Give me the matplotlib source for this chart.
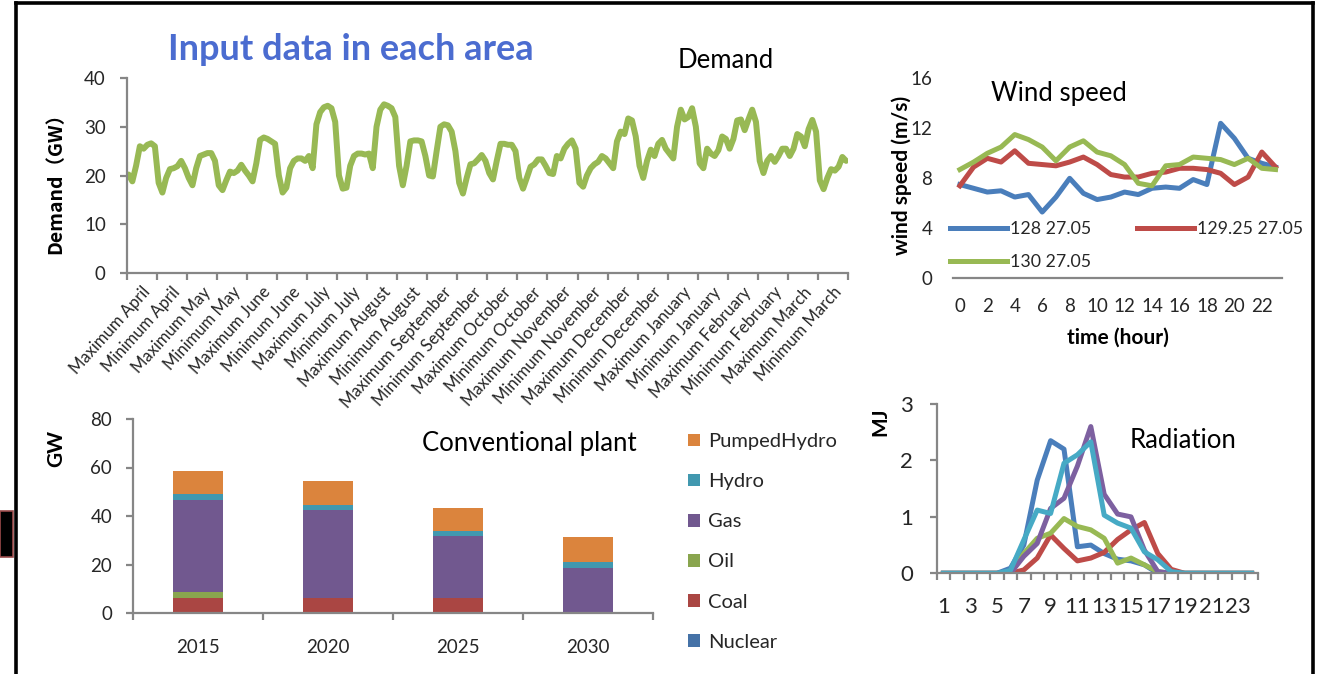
import matplotlib
matplotlib.use('Agg')
import matplotlib.pyplot as plt
import numpy as np
from matplotlib.lines import Line2D
from matplotlib.patches import Rectangle

plt.rcParams['font.family'] = ['Lato', 'Noto Sans CJK JP', 'DejaVu Sans']

# ---------------- data ----------------
demand_categories = [
    "Maximum April", "Minimum April", "Maximum May", "Minimum May",
    "Maximum June", "Minimum June", "Maximum July", "Minimum July",
    "Maximum August", "Minimum August", "Maximum September", "Minimum September",
    "Maximum October", "Minimum October", "Maximum November", "Minimum November",
    "Maximum December", "Minimum December", "Maximum January", "Minimum January",
    "Maximum February", "Minimum February", "Maximum March", "Minimum March",
]
# 8 readings (every 3 hours) per category, GW
demand_gw = [
    20.2, 18.8, 22.0, 26.0, 25.5, 26.3, 26.6, 26.0,   # Max Apr
    18.5, 16.5, 19.5, 21.3, 21.5, 21.9, 23.0, 21.5,   # Min Apr
    19.5, 18.0, 21.5, 24.0, 24.3, 24.6, 24.6, 23.0,   # Max May
    18.0, 17.0, 19.0, 20.8, 20.5, 21.0, 22.2, 21.0,   # Min May
    20.0, 18.8, 22.5, 27.3, 27.8, 27.5, 27.0, 26.5,   # Max Jun
    20.0, 16.5, 17.5, 21.5, 23.0, 23.5, 23.5, 23.0,   # Min Jun
    24.0, 21.5, 30.5, 33.0, 34.0, 34.3, 33.8, 31.0,   # Max Jul
    20.0, 17.3, 17.5, 22.0, 24.0, 24.5, 24.5, 24.3,   # Min Jul
    24.5, 21.5, 30.0, 33.5, 34.6, 34.3, 33.8, 32.0,   # Max Aug
    22.0, 18.0, 22.0, 27.0, 27.2, 27.2, 27.0, 24.0,   # Min Aug
    20.0, 19.8, 25.0, 30.0, 30.5, 30.3, 29.0, 25.0,   # Max Sep
    18.5, 16.3, 19.5, 22.3, 22.5, 23.3, 24.2, 23.0,   # Min Sep
    20.5, 19.2, 23.0, 26.5, 26.5, 26.3, 26.3, 25.0,   # Max Oct
    19.5, 17.3, 19.5, 21.8, 22.3, 23.3, 23.3, 22.0,   # Min Oct
    20.5, 20.3, 24.0, 23.5, 25.5, 26.5, 27.2, 25.5,   # Max Nov
    18.5, 17.7, 20.0, 21.5, 22.3, 22.8, 24.0, 23.5,   # Min Nov
    22.5, 21.5, 27.0, 29.0, 28.5, 31.7, 31.3, 28.0,   # Max Dec
    22.0, 19.5, 23.0, 25.3, 24.0, 26.5, 27.3, 25.5,   # Min Dec
    24.5, 23.5, 30.0, 33.5, 31.5, 32.0, 33.8, 30.0,   # Max Jan
    22.5, 21.5, 25.5, 24.5, 24.0, 25.2, 28.0, 27.5,   # Min Jan
    25.5, 27.5, 31.3, 31.5, 29.3, 31.5, 33.5, 31.0,   # Max Feb
    23.0, 20.5, 23.0, 24.0, 22.8, 24.0, 25.5, 25.5,   # Min Feb
    24.0, 25.5, 28.5, 28.0, 26.0, 29.5, 31.4, 29.0,   # Max Mar
    19.0, 17.2, 19.5, 21.3, 21.0, 21.8, 23.8, 23.0,   # Min Mar
]
samples_per_category = 8

wind_hours = list(range(24))
wind_names = ["128 27.05", "129.25 27.05", "130 27.05"]
wind_128 = [7.5, 7.2, 6.9, 7.0, 6.5, 6.7, 5.3, 6.5, 8.0, 6.8, 6.3, 6.5,
            6.9, 6.7, 7.2, 7.3, 7.2, 7.9, 7.5, 12.4, 11.2, 9.6, 9.2, 8.9]
wind_12925 = [7.4, 8.9, 9.6, 9.3, 10.2, 9.2, 9.1, 9.0, 9.3, 9.7, 9.1, 8.3,
              8.1, 8.1, 8.4, 8.5, 8.8, 8.8, 8.7, 8.4, 7.5, 8.1, 10.1, 8.9]
wind_130 = [8.7, 9.3, 10.0, 10.5, 11.5, 11.1, 10.5, 9.4, 10.5, 11.0, 10.1, 9.8,
            9.1, 7.6, 7.4, 9.0, 9.1, 9.7, 9.6, 9.5, 9.1, 9.6, 8.8, 8.7]

rad_hours = list(range(1, 25))
rad_blue = [0, 0, 0, 0, 0, 0.09, 0.5, 1.65, 2.35, 2.2, 0.47, 0.5,
            0.35, 0.25, 0.22, 0.15, 0, 0, 0, 0, 0, 0, 0, 0]
rad_red = [0, 0, 0, 0, 0, 0, 0.06, 0.27, 0.68, 0.44, 0.22, 0.27,
           0.37, 0.6, 0.77, 0.9, 0.35, 0.07, 0, 0, 0, 0, 0, 0]
rad_green = [0, 0, 0, 0, 0, 0, 0.35, 0.62, 0.71, 0.97, 0.83, 0.77,
             0.62, 0.18, 0.27, 0.15, 0.03, 0, 0, 0, 0, 0, 0, 0]
rad_purple = [0, 0, 0, 0, 0, 0, 0.3, 0.53, 1.15, 1.33, 1.9, 2.6,
              1.4, 1.05, 1.0, 0.41, 0.03, 0, 0, 0, 0, 0, 0, 0]
rad_cyan = [0, 0, 0, 0, 0, 0.05, 0.59, 1.12, 1.06, 1.95, 2.1, 2.33,
            1.03, 0.89, 0.8, 0.38, 0.24, 0.03, 0, 0, 0, 0, 0, 0]

plant_years = ["2015", "2020", "2025", "2030"]
plant_types = ["Nuclear", "Coal", "Oil", "Gas", "Hydro", "PumpedHydro"]
nuclear = [0, 0, 0, 0]
coal = [6.3, 6.3, 6.3, 0]
oil = [2.2, 0, 0, 0]
gas = [38.3, 36.0, 25.5, 18.6]
hydro = [2.1, 2.1, 2.2, 2.6]
pumped_hydro = [9.6, 10.1, 9.4, 10.1]

# ---------------- style ----------------
W, H = 1322, 674
fig = plt.figure(figsize=(W / 100, H / 100), dpi=100)
AX_GRAY = '#868686'
TXT = '#262626'
TICK_FS = 13.5
TITLE_FS = 18.5
LAB_FS = 15

def ax_px(x0, y0, x1, y1):
    return fig.add_axes([x0 / W, 1 - y1 / H, (x1 - x0) / W, (y1 - y0) / H])

def base_style(ax):
    for s in ['top', 'right']:
        ax.spines[s].set_visible(False)
    for s in ['left', 'bottom']:
        ax.spines[s].set_color(AX_GRAY)
        ax.spines[s].set_linewidth(1.6)
    ax.tick_params(colors=AX_GRAY, labelcolor=TXT, labelsize=TICK_FS, width=1.6, length=5)
    ax.patch.set_alpha(0)

# ---------------- Demand ----------------
ax1 = ax_px(126.7, 78, 848, 273)
base_style(ax1)
n_cat = len(demand_categories)
xd = np.arange(len(demand_gw)) / samples_per_category + 0.5 / samples_per_category
ax1.plot(xd, demand_gw, color='#98B954', lw=4.3, solid_joinstyle='round', solid_capstyle='round')
ax1.set_xlim(0, n_cat)
ax1.set_ylim(0, 40)
ax1.set_yticks(np.arange(0, 41, 10))
ax1.set_xticks(np.arange(0, n_cat + 1))
ax1.set_xticklabels([])
ax1.set_xticks(np.arange(n_cat) + 0.5, minor=True)
ax1.set_xticklabels(demand_categories, minor=True, rotation=48, ha='right',
                    rotation_mode='anchor', fontsize=12, color=TXT)
ax1.tick_params(axis='x', which='minor', length=0, pad=8)
ax1.tick_params(axis='y', pad=10)
ax1.set_ylabel('Demand（GW）', fontsize=14, fontweight='bold', color='black',
               family=['Noto Sans CJK JP', 'DejaVu Sans'])
ax1.yaxis.set_label_coords((65 - 126.7) / 721.3, (273 - 178) / 195)

# ---------------- Wind ----------------
ax2 = ax_px(953, 78.3, 1282.4, 278.3)
base_style(ax2)
ax2.spines['left'].set_visible(False)
wind_colors = ['#4A7EBB', '#BE4B48', '#98B954']
l1, = ax2.plot(wind_hours, wind_128, color=wind_colors[0], lw=3.6)
l2, = ax2.plot(wind_hours, wind_12925, color=wind_colors[1], lw=3.6)
l3, = ax2.plot(wind_hours, wind_130, color=wind_colors[2], lw=3.6)
ax2.set_xlim(-0.5, 23.5)
ax2.set_ylim(0, 16)
ax2.set_yticks(np.arange(0, 17, 4))
ax2.set_xticks(np.arange(0, 24, 2))
ax2.tick_params(axis='both', length=0)
ax2.tick_params(axis='y', pad=15)
ax2.tick_params(axis='x', pad=14)
ax2.set_xlabel('time (hour)', fontsize=LAB_FS, fontweight='bold', color='black', labelpad=9)
ax2.set_ylabel('wind speed (m/s)', fontsize=LAB_FS, fontweight='bold', color='black')
ax2.yaxis.set_label_coords((912 - 953) / 329.4, (278.3 - 175) / 200)
leg = ax2.legend([l1, l3, l2], [wind_names[0], wind_names[2], wind_names[1]],
                 ncol=2, loc='upper left', bbox_to_anchor=(950 / W, 1 - 221 / H),
                 bbox_transform=fig.transFigure, frameon=False, fontsize=12.8,
                 handlelength=3.2, handletextpad=0.15, columnspacing=2.6,
                 labelspacing=0.95, borderpad=0, borderaxespad=0)
for t in leg.get_texts():
    t.set_color(TXT)

# ---------------- Radiation ----------------
ax3 = ax_px(936.7, 404, 1258.3, 573.3)
base_style(ax3)
xr = np.array(rad_hours) - 0.5
for vals, c in [(rad_blue, '#4A7EBB'), (rad_red, '#BE4B48'), (rad_green, '#98B954'),
                (rad_purple, '#7D60A0'), (rad_cyan, '#46AAC5')]:
    ax3.plot(xr, vals, color=c, lw=3.6)
ax3.set_xlim(0, 24)
ax3.set_ylim(0, 3)
ax3.set_yticks(np.arange(0, 4, 1))
ax3.tick_params(axis='y', pad=12, labelsize=16)
ax3.set_xticks(np.arange(0, 25))
ax3.set_xticklabels([])
ax3.set_xticks(xr[::2], minor=True)
ax3.set_xticklabels([str(h) for h in rad_hours[::2]], minor=True)
ax3.tick_params(axis='x', which='minor', length=0, pad=17, labelsize=16, labelcolor=TXT)
ax3.set_ylabel('MJ', fontsize=LAB_FS, fontweight='bold', color='black')
ax3.yaxis.set_label_coords((890 - 936.7) / 321.6, (573.3 - 421.5) / 169.3)

# ---------------- Conventional plant ----------------
ax4 = ax_px(133, 419, 653, 613)
base_style(ax4)
plant_colors = ['#4572A7', '#AA4643', '#89A54E', '#71588F', '#4198AF', '#DB843D']
series = [nuclear, coal, oil, gas, hydro, pumped_hydro]
xb = np.arange(len(plant_years)) + 0.5
bottom = np.zeros(len(plant_years))
handles = []
for name, vals, c in zip(plant_types, series, plant_colors):
    b = ax4.bar(xb, vals, width=0.39, bottom=bottom, color=c, label=name)
    handles.append(b)
    bottom += np.array(vals)
ax4.set_xlim(0, len(plant_years))
ax4.set_ylim(0, 80)
ax4.set_yticks(np.arange(0, 81, 20))
ax4.tick_params(axis='y', pad=10)
ax4.set_xticks(np.arange(0, len(plant_years) + 1))
ax4.set_xticklabels([])
ax4.set_xticks(xb, minor=True)
ax4.set_xticklabels(plant_years, minor=True)
ax4.tick_params(axis='x', which='minor', length=0, pad=19, labelsize=TICK_FS, labelcolor=TXT)
ax4.set_ylabel('GW', fontsize=LAB_FS, fontweight='bold', color='black')
ax4.yaxis.set_label_coords((66 - 133) / 520, (613 - 448) / 194)
leg4 = ax4.legend(handles[::-1], plant_types[::-1], loc='upper left',
                  bbox_to_anchor=(688 / W, 1 - 433 / H), bbox_transform=fig.transFigure,
                  frameon=False, fontsize=14.5, handlelength=0.6, handleheight=0.6,
                  handletextpad=0.4, labelspacing=1.15, borderpad=0, borderaxespad=0)
for t in leg4.get_texts():
    t.set_color(TXT)

# ---------------- titles ----------------
fig.text(168 / W, 1 - 50 / H, 'Input data in each area', fontsize=26, fontweight='bold',
         color='#4B6CD0', ha='left', va='center')
fig.text(678 / W, 1 - 60 / H, 'Demand', fontsize=TITLE_FS, color='black', ha='left', va='center')
fig.text(991 / W, 1 - 94 / H, 'Wind speed', fontsize=TITLE_FS, color='black', ha='left', va='center')
fig.text(1130 / W, 1 - 440 / H, 'Radiation', fontsize=TITLE_FS, color='black', ha='left', va='center')
fig.text(422 / W, 1 - 444 / H, 'Conventional plant', fontsize=TITLE_FS, color='black', ha='left', va='center')

# ---------------- frame ----------------
frame_kw = dict(color='black', lw=2.6, transform=fig.transFigure)
fig.add_artist(Line2D([16 / W, 1313 / W], [1 - 3 / H, 1 - 3 / H], **frame_kw))
fig.add_artist(Line2D([16 / W, 16 / W], [1 - 3 / H, 0], **frame_kw))
fig.add_artist(Line2D([1313 / W, 1313 / W], [1 - 3 / H, 0], **frame_kw))
fig.add_artist(Rectangle((0, 1 - 557 / H), 13 / W, 46 / H, transform=fig.transFigure,
                         facecolor='black', edgecolor='#9A4A4A', lw=1.2))

fig.savefig('out.png', dpi=100)
